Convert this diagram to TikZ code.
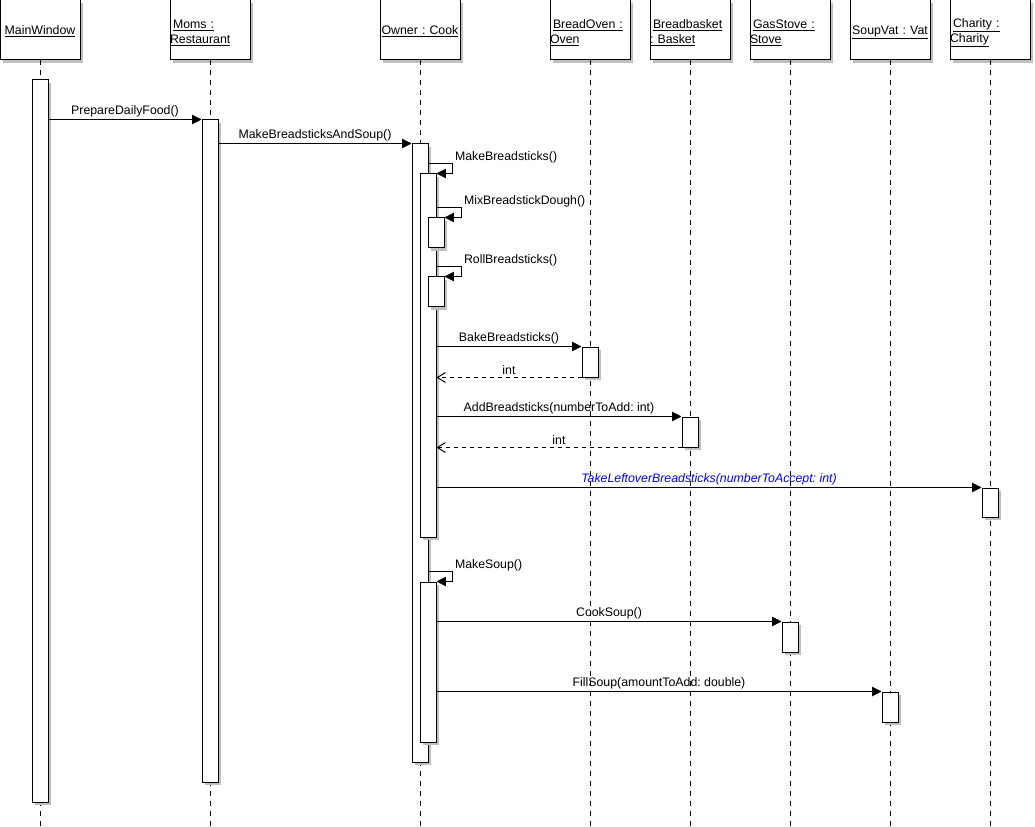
\documentclass[tikz,border=0pt]{standalone}
\usepackage{fontspec}
\setmainfont{Liberation Sans}
\usetikzlibrary{arrows.meta,positioning,fit,shadows}
\definecolor{callblue}{RGB}{0,0,255}
\frenchspacing
\newcommand{\objname}[1]{\underline{#1}}
\newcommand{\objtwo}[2]{\rule{0pt}{11pt}\hspace*{2.25pt}\underline{#1}\\\underline{#2}}
\tikzset{
  boxshadow/.style={general shadow={fill=black!25, shadow xshift=2.25pt, shadow yshift=-2.25pt}},
  obj/.style={draw, fill=white, inner sep=0pt, minimum width=60pt, minimum height=45pt,
    text width=60pt, align=left, boxshadow},
  objone/.style={obj, align=center, text depth=-0.75pt},
  act/.style={draw, fill=white, inner sep=0pt, boxshadow},
  life/.style={dash pattern=on 3.75pt off 3.75pt},
  msg/.style={-{Triangle[length=7pt, width=7pt]}},
  ret/.style={dashed, -{Straight Barb[length=6pt, width=7.5pt]}},
  lbl/.style={above, inner sep=1.5pt},
  selflbl/.style={anchor=west, yshift=4.5pt, inner sep=1.5pt}
}
\begin{document}
\begin{tikzpicture}[x=0.75pt, y=-0.75pt, line width=0.75pt, font=\fontsize{9.25}{11.25}\selectfont]
  \useasboundingbox (0,0) rectangle (1035,827);
  % objects
  \node[objone] (mw) at (40,30) {\objname{MainWindow}};
  \node[obj] (moms) at (210,30) {\objtwo{Moms :}{Restaurant}};
  \node[objone] (owner) at (420,30) {\objname{Owner : Cook}};
  \node[obj] (oven) at (590,30) {\objtwo{BreadOven :}{Oven}};
  \node[obj] (basket) at (690,30) {\objtwo{Breadbasket}{: Basket}};
  \node[obj] (stove) at (790,30) {\objtwo{GasStove :}{Stove}};
  \node[objone] (vat) at (890,30) {\objname{SoupVat : Vat}};
  \node[obj] (charity) at (990,30) {\objtwo{Charity :}{Charity}};
  % lifelines
  \foreach \o in {mw,moms,owner,oven,basket,stove,vat,charity}
    \draw[life] (\o.south) -- (\o.south |- 0,827);
  % activations
  \node[act, fit={(32,80) (48,802)}] (mwAct) {};
  \node[act, fit={(202,120) (218,782)}] (momsAct) {};
  \node[act, fit={(412,144) (428,762)}] (ownerAct) {};
  \node[act, fit={(420,174) (436,537)}] (breadAct) {};
  \node[act, fit={(428,218) (444,248)}] (mixAct) {};
  \node[act, fit={(428,277) (444,307)}] (rollAct) {};
  \node[act, fit={(582,347) (598,377)}] (ovenAct) {};
  \node[act, fit={(682,417) (698,447)}] (basketAct) {};
  \node[act, fit={(982,488) (998,517)}] (charityAct) {};
  \node[act, fit={(420,582) (436,742)}] (soupAct) {};
  \node[act, fit={(782,622) (798,652)}] (stoveAct) {};
  \node[act, fit={(882,692) (898,722)}] (vatAct) {};
  % messages
  \draw[msg] (mwAct.east |- momsAct.north) -- node[lbl]{PrepareDailyFood()} (momsAct.north west);
  \draw[msg] (momsAct.east |- ownerAct.north) -- node[lbl]{MakeBreadsticksAndSoup()} (ownerAct.north west);
  \draw[msg] (ownerAct.east |- breadAct.north) ++(0,-10) -- ++(24,0) node[selflbl]{MakeBreadsticks()} |- (breadAct.north east);
  \draw[msg] (breadAct.east |- mixAct.north) ++(0,-10) -- ++(25,0) node[selflbl]{MixBreadstickDough()} |- (mixAct.north east);
  \draw[msg] (breadAct.east |- rollAct.north) ++(0,-10) -- ++(25,0) node[selflbl]{RollBreadsticks()} |- (rollAct.north east);
  \draw[msg] (breadAct.east |- ovenAct.north) -- node[lbl]{BakeBreadsticks()} (ovenAct.north west);
  \draw[ret] (ovenAct.south west) -- node[lbl]{int} (breadAct.east |- ovenAct.south);
  \draw[msg] (breadAct.east |- basketAct.north) -- node[lbl]{AddBreadsticks(numberToAdd: int)} (basketAct.north west);
  \draw[ret] (basketAct.south west) -- node[lbl]{int} (breadAct.east |- basketAct.south);
  \draw[msg] (breadAct.east |- charityAct.north) -- node[lbl, text=callblue]{\itshape TakeLeftoverBreadsticks(numberToAccept: int)} (charityAct.north west);
  \draw[msg] (ownerAct.east |- soupAct.north) ++(0,-10) -- ++(24,0) node[selflbl]{MakeSoup()} |- (soupAct.north east);
  \draw[msg] (soupAct.east |- stoveAct.north) -- node[lbl]{CookSoup()} (stoveAct.north west);
  \draw[msg] (soupAct.east |- vatAct.north) -- node[lbl]{FillSoup(amountToAdd: double)} (vatAct.north west);
\end{tikzpicture}
\end{document}
